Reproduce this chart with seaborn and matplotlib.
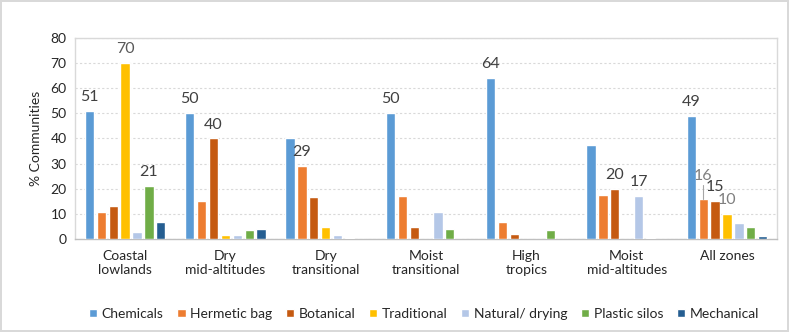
import pandas as pd
import numpy as np
import matplotlib.pyplot as plt
import seaborn as sns

# zones along the x axis
zones = ['Coastal\nlowlands', 'Dry\nmid-altitudes', 'Dry\ntransitional',
         'Moist\ntransitional', 'High\ntropics', 'Moist\nmid-altitudes', 'All zones']

methods = ['Chemicals', 'Hermetic bag', 'Botanical', 'Traditional',
           'Natural/ drying', 'Plastic silos', 'Mechanical']

# % communities per method, one value per zone
chemicals    = [51, 50, 40, 50, 64, 37.4, 49]
hermetic_bag = [10.8, 15.3, 29, 17.2, 6.9, 17.5, 16]
botanical    = [13.3, 40, 16.9, 4.9, 2.1, 20, 15]
traditional  = [70, 1.7, 4.6, 0, 0, 0, 10]
natural      = [2.8, 1.7, 1.7, 10.8, 0, 17, 6.2]
plastic      = [21, 3.7, 0.5, 4.0, 3.7, 0.5, 4.9]
mechanical   = [6.6, 4.1, 0, 0, 0, 0, 1.4]

# which bars carry a value label
label_zone   = [0, 0, 0, 1, 1, 2, 3, 4, 5, 5, 6, 6, 6, 6]
label_method = [0, 3, 5, 0, 2, 1, 0, 0, 2, 4, 0, 1, 2, 3]

colors = ['#5B9BD5', '#ED7D31', '#C55A11', '#FFC000', '#B4C7E7', '#70AD47', '#255E91']

series = [chemicals, hermetic_bag, botanical, traditional, natural, plastic, mechanical]
df = pd.DataFrame({
    'zone': np.tile(zones, len(methods)),
    'method': np.repeat(methods, len(zones)),
    'value': np.concatenate(series),
})

sns.set_style('white')
plt.rcParams['font.family'] = ['Lato', 'DejaVu Sans']

fig = plt.figure(figsize=(7.89, 3.32), dpi=100, edgecolor='#d9d9d9', linewidth=1.5)
ax = fig.add_axes([0.095, 0.28, 0.89, 0.606])

sns.barplot(data=df, x='zone', y='value', hue='method', order=zones, hue_order=methods,
            palette=colors, saturation=1, width=0.83, gap=0.22, ax=ax,
            errorbar=None, zorder=3)

ax.set_ylim(0, 80)
ax.set_yticks(range(0, 81, 10))
ax.yaxis.grid(True, linestyle=(0, (2, 2)), color='#d9d9d9', linewidth=0.8, zorder=0)
ax.set_xlim(-0.5, len(zones) - 0.5)
for s in ax.spines.values():
    s.set_color('#d9d9d9')
    s.set_linewidth(1)
ax.spines['bottom'].set_color('#bfbfbf')
ax.tick_params(axis='both', labelsize=10, colors='#262626', length=0, pad=6)
ax.tick_params(axis='x', pad=8)
ax.set_xlabel('')
ax.set_ylabel('% Communities', fontsize=10, color='#262626', labelpad=6)

# value labels
for zi, mi in zip(label_zone, label_method):
    bar = ax.containers[mi][zi]
    v = series[mi][zi]
    x = bar.get_x() + bar.get_width() / 2
    col = '#404040'
    dy = 5.5
    if zi == 6 and mi == 1:
        dy = 9.2
        ax.plot([x, x], [v + 5.6, v], color='#a6a6a6', linewidth=0.8, zorder=4)
    if zi == 6 and mi in (1, 3):
        col = '#7f7f7f'
    if zi == 0 and mi == 3:
        col = '#595959'
    ax.text(x, v + dy, f'{v:.0f}', ha='center', va='center', fontsize=11.5, color=col)

ax.legend(loc='upper center', bbox_to_anchor=(0.497, -0.28), ncol=7, frameon=False,
          fontsize=10, handlelength=0.6, handleheight=0.6, handletextpad=0.3,
          columnspacing=1.0, labelcolor='#262626')

fig.savefig('out.png', dpi=100, edgecolor=fig.get_edgecolor())
